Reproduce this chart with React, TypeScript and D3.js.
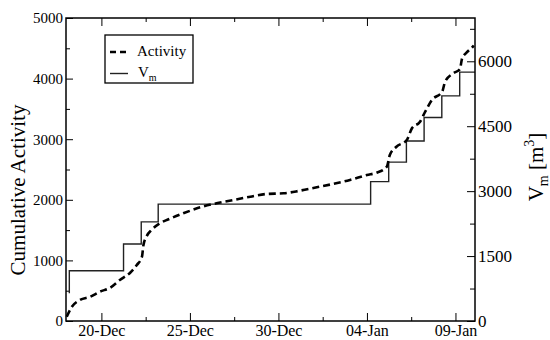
import * as d3 from 'd3'
import { useEffect, useRef } from 'react'

// cumulative activity (left axis)
const activityTimes = [
    '2015-12-18T01:00', '2015-12-18T08:00', '2015-12-18T19:00', '2015-12-19T09:00',
    '2015-12-19T22:00', '2015-12-20T12:00', '2015-12-21T01:00', '2015-12-21T15:00',
    '2015-12-22T00:00', '2015-12-22T07:00', '2015-12-22T09:00', '2015-12-22T13:00',
    '2015-12-22T20:00', '2015-12-23T07:00', '2015-12-23T19:00', '2015-12-24T15:00',
    '2015-12-25T14:00', '2015-12-26T12:00', '2015-12-27T11:00', '2015-12-28T10:00',
    '2015-12-29T08:00', '2015-12-30T07:00', '2015-12-31T05:00', '2016-01-01T04:00',
    '2016-01-02T02:00', '2016-01-03T01:00', '2016-01-04T00:00', '2016-01-04T13:00',
    '2016-01-05T03:00', '2016-01-05T07:00', '2016-01-05T16:00', '2016-01-06T06:00',
    '2016-01-06T13:00', '2016-01-07T00:00', '2016-01-07T07:00', '2016-01-07T16:00',
    '2016-01-08T06:00', '2016-01-08T10:00', '2016-01-08T21:00', '2016-01-09T06:00',
    '2016-01-09T09:00', '2016-01-09T15:00', '2016-01-09T23:30', '2016-01-10T01:00',
]
const activityValues = [
    70, 236, 347, 401,
    484, 550, 677, 797,
    924, 1061, 1254, 1391,
    1502, 1612, 1678, 1777,
    1876, 1942, 1997, 2051,
    2096, 2107, 2150, 2206,
    2261, 2327, 2409, 2447,
    2546, 2739, 2876, 2987,
    3180, 3289, 3454, 3647,
    3784, 3949, 4087, 4153,
    4335, 4428, 4526, 4545,
]

// V_m in m^3 (right axis), drawn as steps
const vmTimes = [
    '2015-12-18T04:30', '2015-12-18T04:30', '2015-12-21T06:00', '2015-12-22T06:00',
    '2015-12-23T05:00', '2016-01-04T05:00', '2016-01-05T05:30', '2016-01-06T05:30',
    '2016-01-07T05:30', '2016-01-08T05:30', '2016-01-09T05:45', '2016-01-10T02:30',
]
const vmValues = [640, 1160, 1780, 2290, 2700, 3220, 3670, 4160, 4700, 5200, 5750, 5750]

const dateTicks = ['2015-12-20', '2015-12-25', '2015-12-30', '2016-01-04', '2016-01-09']
const dateMinorTicks = ['2015-12-22T12:00', '2015-12-27T12:00', '2016-01-01T12:00', '2016-01-06T12:00']
const leftTicks = [0, 1000, 2000, 3000, 4000, 5000]
const leftMinorTicks = [500, 1500, 2500, 3500, 4500]
const rightTicks = [0, 1500, 3000, 4500, 6000]
const rightMinorTicks = [750, 2250, 3750, 5250, 6750]

const FONT = 'Liberation Serif, DejaVu Serif, Times New Roman, serif'

export default function App() {
    const svgRef = useRef<SVGSVGElement>(null)

    useEffect(() => {
        if (!svgRef.current) return
        const svg = d3.select(svgRef.current)
        svg.selectAll('*').remove()

        const parseT = d3.timeParse('%Y-%m-%dT%H:%M')
        const parseD = d3.timeParse('%Y-%m-%d')
        const left = 66, right = 475, top = 18, bottom = 321

        const x = d3
            .scaleTime()
            .domain([parseT('2015-12-18T00:00')!, parseT('2016-01-10T02:30')!])
            .range([left, right])
        const yL = d3.scaleLinear().domain([0, 5000]).range([bottom, top])
        const yR = d3.scaleLinear().domain([0, 7000]).range([bottom, top])

        const majorDates = dateTicks.map((d) => parseD(d)!)
        const minorDates = dateMinorTicks.map((d) => parseT(d)!)

        const styleAxis = (g: d3.Selection<SVGGElement, unknown, null, undefined>, size: number) => {
            g.attr('font-family', FONT).attr('font-size', size)
            g.select('.domain').remove()
            g.selectAll('line').attr('stroke', '#000').attr('stroke-width', 1)
            g.selectAll('text').attr('fill', '#000')
        }

        // bottom
        svg.append('g')
            .attr('transform', `translate(0,${bottom})`)
            .call(d3.axisBottom(x).tickValues(majorDates).tickFormat((d) => d3.timeFormat('%d-%b')(d as Date)).tickSize(-8).tickPadding(4))
            .call((g) => styleAxis(g, 16))
        svg.append('g')
            .attr('transform', `translate(0,${bottom})`)
            .call(d3.axisBottom(x).tickValues(minorDates).tickFormat(() => '').tickSize(-4))
            .call((g) => styleAxis(g, 16))
        // top
        svg.append('g')
            .attr('transform', `translate(0,${top})`)
            .call(d3.axisTop(x).tickValues(majorDates).tickFormat(() => '').tickSize(-8))
            .call((g) => styleAxis(g, 16))
        svg.append('g')
            .attr('transform', `translate(0,${top})`)
            .call(d3.axisTop(x).tickValues(minorDates).tickFormat(() => '').tickSize(-4))
            .call((g) => styleAxis(g, 16))
        // left
        svg.append('g')
            .attr('transform', `translate(${left},0)`)
            .call(d3.axisLeft(yL).tickValues(leftTicks).tickFormat(d3.format('d')).tickSize(-7).tickPadding(3))
            .call((g) => styleAxis(g, 15))
        svg.append('g')
            .attr('transform', `translate(${left},0)`)
            .call(d3.axisLeft(yL).tickValues(leftMinorTicks).tickFormat(() => '').tickSize(-4))
            .call((g) => styleAxis(g, 15))
        // right
        svg.append('g')
            .attr('transform', `translate(${right},0)`)
            .call(d3.axisRight(yR).tickValues(rightTicks).tickFormat(d3.format('d')).tickSize(-8).tickPadding(3))
            .call((g) => styleAxis(g, 17))
        svg.append('g')
            .attr('transform', `translate(${right},0)`)
            .call(d3.axisRight(yR).tickValues(rightMinorTicks).tickFormat(() => '').tickSize(-5))
            .call((g) => styleAxis(g, 17))

        // V_m steps
        const vmData = vmTimes.map((t, i) => ({ t: parseT(t)!, v: vmValues[i] }))
        const stepLine = d3
            .line<{ t: Date; v: number }>()
            .x((d) => x(d.t))
            .y((d) => yR(d.v))
            .curve(d3.curveStepAfter)
        svg.append('path')
            .attr('d', stepLine(vmData))
            .attr('fill', 'none')
            .attr('stroke', '#222')
            .attr('stroke-width', 1.4)

        // activity
        const actData = activityTimes.map((t, i) => ({ t: parseT(t)!, v: activityValues[i] }))
        const actLine = d3
            .line<{ t: Date; v: number }>()
            .x((d) => x(d.t))
            .y((d) => yL(d.v))
            .curve(d3.curveMonotoneX)
        svg.append('path')
            .attr('d', actLine(actData))
            .attr('fill', 'none')
            .attr('stroke', '#000')
            .attr('stroke-width', 2.6)
            .attr('stroke-dasharray', '7,4')

        // frame
        svg.append('rect')
            .attr('x', left)
            .attr('y', top)
            .attr('width', right - left)
            .attr('height', bottom - top)
            .attr('fill', 'none')
            .attr('stroke', '#000')
            .attr('stroke-width', 1.5)

        // axis titles
        svg.append('text')
            .attr('transform', `translate(25,190) rotate(-90)`)
            .attr('text-anchor', 'middle')
            .attr('font-family', FONT)
            .attr('font-size', 21)
            .text('Cumulative Activity')

        const rt = svg.append('text')
            .attr('transform', `translate(543,167) rotate(-90)`)
            .attr('text-anchor', 'middle')
            .attr('font-family', FONT)
            .attr('font-size', 21)
        rt.append('tspan').text('V')
        rt.append('tspan').attr('dy', 5).attr('font-size', 14).text('m')
        rt.append('tspan').attr('dy', -5).text(' [m')
        rt.append('tspan').attr('dy', -9).attr('font-size', 14).text('3')
        rt.append('tspan').attr('dy', 9).text(']')

        // legend
        const lg = svg.append('g')
        lg.append('rect')
            .attr('x', 105).attr('y', 35).attr('width', 88).attr('height', 48)
            .attr('fill', '#fff').attr('stroke', '#000').attr('stroke-width', 1.3)
        lg.append('line')
            .attr('x1', 110).attr('x2', 128).attr('y1', 52).attr('y2', 52)
            .attr('stroke', '#000').attr('stroke-width', 2.6).attr('stroke-dasharray', '6,4')
        lg.append('line')
            .attr('x1', 110).attr('x2', 128).attr('y1', 73.5).attr('y2', 73.5)
            .attr('stroke', '#222').attr('stroke-width', 1.4)
        lg.append('text')
            .attr('x', 137).attr('y', 56)
            .attr('font-family', FONT).attr('font-size', 15)
            .text('Activity')
        const vt = lg.append('text')
            .attr('x', 138).attr('y', 77)
            .attr('font-family', FONT).attr('font-size', 15)
        vt.append('tspan').text('V')
        vt.append('tspan').attr('dy', 4).attr('font-size', 10).text('m')
    }, [])

    return (
        <svg
            ref={svgRef}
            width={550}
            height={340}
            style={{ position: 'absolute', left: 0, top: 0, background: 'white' }}
        />
    )
}
